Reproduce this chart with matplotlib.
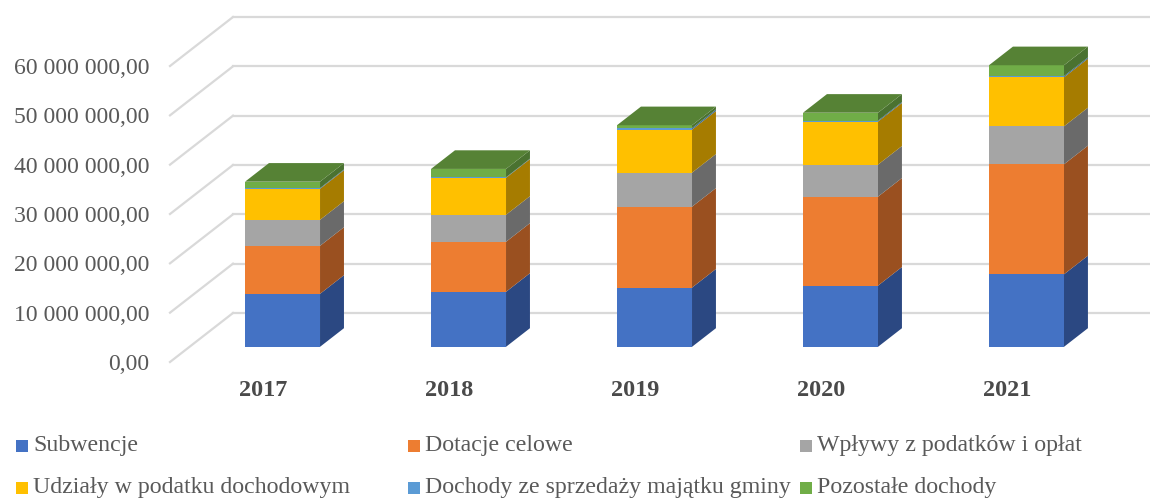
import matplotlib
matplotlib.use("Agg")
import matplotlib.pyplot as plt
from matplotlib.patches import Rectangle
import numpy as np

years = ["2017", "2018", "2019", "2020", "2021"]
series_names = ["Subwencje", "Dotacje celowe", "Wpływy z podatków i opłat",
                "Udziały w podatku dochodowym", "Dochody ze sprzedaży majątku gminy", "Pozostałe dochody"]

subwencje = [10.74, 11.15, 12.0, 12.4, 14.7]
dotacje = [9.73, 10.14, 16.4, 18.04, 22.3]
wplywy = [5.27, 5.47, 6.9, 6.49, 7.7]
udzialy = [6.28, 7.5, 8.72, 8.72, 9.93]
sprzedaz = [0.15, 0.1, 0.3, 0.2, 0.25]
pozostale = [1.3, 1.7, 0.6, 1.6, 2.2]

front_colors = ["#4472C4", "#ED7D31", "#A5A5A5", "#FFC000", "#5B9BD5", "#70AD47"]
side_colors = ["#2B4882", "#9A5020", "#6A6A6A", "#A67C00", "#3B6A94", "#4A7230"]
top_color = "#568235"
grid_color = "#D9D9D9"
text_color = "#595959"

yticks = [0, 10, 20, 30, 40, 50, 60]

plt.rcParams["font.family"] = ["Liberation Serif", "DejaVu Serif"]

W, H = 1150, 501
fig = plt.figure(figsize = (W / 100, H / 100), dpi = 100)
ax = fig.add_axes([170 / W, 1 - 362 / H, (W - 170) / W, 345 / H])
ax.set_xlim(-0.5, 4.769)
ax.set_ylim(0, 345 / 4.933)

# oblique projection of the floor depth
depth_x = 63 / 186
depth_y = 49 / 4.933
bar_w = 75 / 186
d0, d1 = 0.31, 0.69

for v in yticks:
    ax.plot([-0.5, -0.5 + depth_x], [v, v + depth_y], color = grid_color, linewidth = 1.6, clip_on = False, zorder = 1)
    ax.plot([-0.5 + depth_x, 4.769], [v + depth_y, v + depth_y], color = grid_color, linewidth = 1.6, clip_on = False, zorder = 1)

stack = np.array([subwencje, dotacje, wplywy, udzialy, sprzedaz, pozostale])
tops = np.cumsum(stack, axis = 0)
bottoms = tops - stack

for i in range(len(years)):
    x0 = i + d0 * depth_x - bar_w / 2
    x1 = x0 + bar_w
    xb = x1 + (d1 - d0) * depth_x
    sy = d0 * depth_y
    oy = (d1 - d0) * depth_y

    for s in range(stack.shape[0]):
        b = bottoms[s, i] + sy
        t = tops[s, i] + sy
        ax.fill([x0, x1, x1, x0], [b, b, t, t], color = front_colors[s], linewidth = 0, zorder = 3, clip_on = False)
        ax.fill([x1, xb, xb, x1], [b, b + oy, t + oy, t], color = side_colors[s], linewidth = 0, zorder = 3, clip_on = False)

    t = tops[-1, i] + sy
    ax.fill([x0, x1, xb, x0 + (xb - x1)], [t, t, t + oy, t + oy], color = top_color, linewidth = 0, zorder = 3, clip_on = False)

ax.set_yticks(yticks)
ax.set_yticklabels(["0,00"] + ["%d 000 000,00" % v for v in yticks[1:]], fontsize = 17.1, color = text_color)
ax.set_xticks(range(len(years)))
ax.set_xticklabels(years, fontsize = 17.5, fontweight = "bold", color = "#4A4A4A")
ax.tick_params(axis = "y", length = 0, pad = 15)
ax.tick_params(axis = "x", length = 0, pad = 13)

for spine in ax.spines.values():
    spine.set_visible(False)

ax.patch.set_alpha(0)

legend_x = [16, 408, 800]
legend_y = [446, 488]

for k, name in enumerate(series_names):
    px = legend_x[k % 3]
    py = legend_y[k // 3]
    fig.add_artist(Rectangle((px / W, 1 - (py + 6) / H), 12 / W, 12 / H, transform = fig.transFigure,
                             facecolor = front_colors[k], edgecolor = "none"))
    fig.text((px + 17) / W, 1 - py / H, name, fontsize = 17.2, color = text_color, ha = "left", va = "center")

fig.savefig("out.png", dpi = 100)
